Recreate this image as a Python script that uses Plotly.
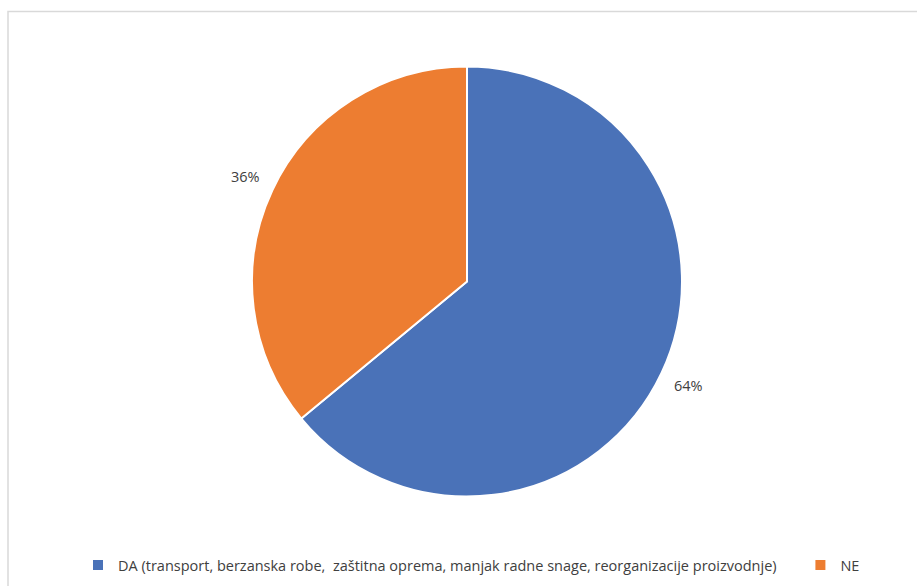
import math
import plotly.graph_objects as go

labels = ["DA (transport, berzanska robe,  zaštitna oprema, manjak radne snage, reorganizacije proizvodnje)", "NE"]
values = [64, 36]
colors = ["#4A72B8", "#ED7D31"]

W, H = 917, 586
cx, cy, r = 467, 281, 214          # target pie centre / radius (px)
dcx, dcy, dr = 467, 281.5, 215     # domain box used to obtain it
FONT = "Open Sans, Noto Sans, sans-serif"

# pad legend entries (non-breaking spaces) so the second entry sits far right
legend_labels = [labels[0] + "\u00a0" * 5, labels[1]]

fig = go.Figure(go.Pie(
    labels=legend_labels,
    values=values,
    sort=False,
    direction="clockwise",
    rotation=0,
    marker=dict(colors=colors, line=dict(color="white", width=2)),
    textinfo="none",
    domain=dict(x=[(dcx - dr) / W, (dcx + dr) / W], y=[1 - (dcy + dr) / H, 1 - (dcy - dr) / H]),
    hovertext=labels,
    hoverinfo="text+percent",
))

# percent labels placed outside each slice, at the slice's mid-angle
total = sum(values)
cum = 0
annotations = []
for v in values:
    mid = (cum + v / 2) / total * 2 * math.pi
    cum += v
    px = cx + 1.145 * r * math.sin(mid)
    py = cy - 1.145 * r * math.cos(mid)
    annotations.append(dict(x=px / W, y=1 - py / H, xref="paper", yref="paper",
                            xanchor="center", yanchor="middle",
                            text=f"{round(v / total * 100)}%", showarrow=False,
                            font=dict(family=FONT, size=14.5, color="#404040")))

fig.update_layout(
    width=W, height=H,
    margin=dict(l=0, r=0, t=0, b=0),
    paper_bgcolor="white",
    font=dict(family=FONT, size=14.5, color="#404040"),
    showlegend=True,
    legend=dict(orientation="h", x=78 / W, xanchor="left", y=1 - 565 / H, yanchor="middle",
                font=dict(family=FONT, size=14.5, color="#404040"), itemwidth=30),
    annotations=annotations,
    shapes=[dict(type="rect", xref="paper", yref="paper", x0=8 / W, x1=1.05, y0=-0.05, y1=1 - 11.5 / H,
                 line=dict(color="#D9D9D9", width=1.5), fillcolor="rgba(0,0,0,0)")],
)

fig.write_html("out.html", config={"displayModeBar": False},
               post_script="document.body.style.margin='0';document.body.style.overflow='hidden';")
